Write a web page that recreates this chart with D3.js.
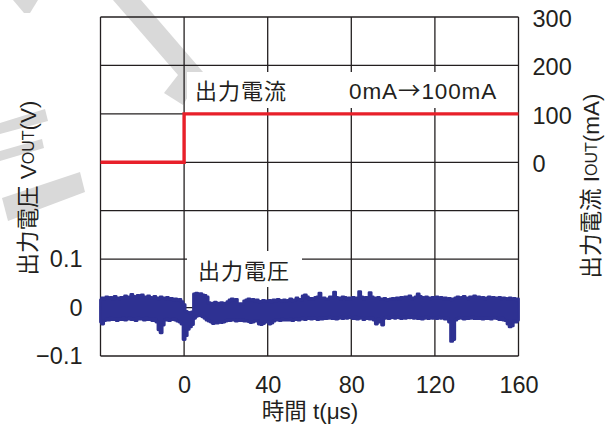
<!DOCTYPE html>
<html>
<head>
<meta charset="utf-8">
<script src="https://cdn.jsdelivr.net/npm/d3@7"></script>
<style>
  html, body { margin: 0; padding: 0; background: #fff; }
  svg { display: block; }
  text { fill: #231f20; font-family: "Liberation Sans", Arial, "Noto Sans CJK JP", sans-serif; }
</style>
</head>
<body>
<svg id="chart" width="616" height="432"></svg>
<script>
// Time axis (µs)
const timeTicks = [0, 40, 80, 120, 160];
const timeGrid = [-40, 0, 40, 80, 120, 160];

// Left axis: output voltage (V)
const voltTicks = [-0.1, 0, 0.1];
const voltGrid = [-0.1, 0, 0.1, 0.2, 0.3, 0.4, 0.5, 0.6];

// Right axis: output current (mA)
const currTicks = [0, 100, 200, 300];

// Load current step 0mA -> 100mA at t = 0
const currentTimes = [-40, 0, 160];
const currentValues = [0, 100, 100];

// Output voltage trace envelope, sampled every 1 µs from -40 µs, in mV
const voltStartTime = -40;
const voltUpper = [
  16,20,18,22,19,21,17,23,20,18,
  21,19,24,20,22,27,23,20,25,21,
  26,22,20,24,21,19,23,20,18,22,
  20,18,21,17,19,16,18,15,17,12,
  6,-8,-10,-12,-9,28,30,27,29,26,
  25,22,10,8,9,11,7,9,10,8,
  9,12,16,18,15,17,6,8,7,14,
  16,18,15,17,14,16,12,13,15,14,
  13,15,12,16,14,17,15,13,16,14,
  15,18,14,16,20,17,15,24,26,22,
  17,19,18,21,22,30,19,20,17,18,
  22,19,32,21,20,18,22,21,17,20,
  18,21,19,20,33,22,18,21,20,31,
  22,20,19,21,18,17,19,16,17,18,
  19,18,20,17,21,19,22,20,24,18,
  20,22,28,23,21,19,22,20,18,21,
  19,22,20,21,18,20,17,19,16,18,
  20,22,19,21,23,20,18,22,21,24,
  20,22,19,21,18,20,22,19,21,20,
  19,21,18,20,19,17,20,18,19,16,18
];
const voltLower = [
  -30,-34,-27,-24,-26,-22,-25,-23,-27,-24,
  -25,-22,-26,-24,-21,-25,-23,-27,-22,-24,
  -23,-26,-22,-25,-24,-27,-24,-30,-46,-52,
  -36,-26,-24,-27,-25,-23,-26,-28,-30,-34,
  -66,-58,-45,-40,-35,-22,-18,-16,-17,-19,
  -22,-26,-28,-30,-33,-31,-32,-29,-31,-30,
  -28,-26,-27,-25,-26,-28,-25,-27,-26,-28,
  -27,-29,-31,-30,-28,-27,-34,-35,-33,-29,
  -30,-34,-32,-28,-26,-25,-27,-24,-26,-25,
  -26,-24,-27,-25,-23,-26,-24,-22,-25,-23,
  -22,-24,-21,-23,-25,-22,-24,-21,-23,-22,
  -20,-23,-21,-24,-22,-20,-23,-21,-22,-20,
  -21,-23,-20,-24,-22,-21,-25,-23,-21,-24,
  -22,-26,-34,-24,-30,-36,-22,-20,-23,-21,
  -20,-22,-19,-21,-23,-20,-22,-19,-21,-20,
  -22,-20,-23,-21,-24,-22,-20,-23,-21,-22,
  -21,-23,-20,-22,-21,-24,-22,-30,-70,-66,
  -26,-23,-21,-22,-24,-21,-23,-22,-20,-23,
  -21,-23,-22,-24,-21,-23,-22,-24,-21,-22,
  -23,-25,-22,-26,-27,-34,-40,-38,-28,-30,-26
];

const ink = "#231f20";
const red = "#e8202a";
const navy = "#2e3192";

const svg = d3.select("#chart");
const plot = { left: 100.5, right: 518.5, top: 17, bottom: 356 };

const x = d3.scaleLinear().domain([-40, 160]).range([plot.left, plot.right]);
const yV = d3.scaleLinear().domain([-0.1, 0.6]).range([plot.bottom, plot.top]);
const yI = d3.scaleLinear().domain([-400, 300]).range([plot.bottom, plot.top]);

svg.append("rect").attr("width", 616).attr("height", 432).attr("fill", "#fff");

// Light grey watermark strokes
const mark = svg.append("g").attr("fill", "#d9d9d9");
[
  [[13,0],[38,0],[30,13],[24,13]],
  [[113,0],[141,0],[203,72],[183,105],[164,93],[178,75]],
  [[0,123],[45,109],[48,121],[0,134]],
  [[0,151],[42,139],[44,148],[0,161]],
  [[2,198],[80,172],[85,192],[8,221]]
].forEach(p => mark.append("path").attr("d", d3.line()(p) + "Z"));

// Grid
const grid = svg.append("g").attr("stroke", ink).attr("stroke-width", 1.3);
grid.selectAll(".gv").data(timeGrid).join("line")
  .attr("x1", d => x(d)).attr("x2", d => x(d))
  .attr("y1", plot.top).attr("y2", plot.bottom);
grid.selectAll(".gh").data(voltGrid).join("line")
  .attr("x1", plot.left).attr("x2", plot.right)
  .attr("y1", d => yV(d)).attr("y2", d => yV(d));

// White backing for in-plot labels
const boxes = [
  [187, 72, 105, 36],
  [344, 72, 162, 36],
  [187, 251, 115, 36]
];
svg.append("g").selectAll("rect").data(boxes).join("rect")
  .attr("x", d => d[0]).attr("y", d => d[1])
  .attr("width", d => d[2]).attr("height", d => d[3])
  .attr("fill", "#fff");

// Current step
const curPts = currentTimes.map((t, i) => [t, currentValues[i]]);
svg.append("path")
  .attr("d", d3.line().x(d => x(d[0])).y(d => yI(d[1])).curve(d3.curveStepAfter)(curPts))
  .attr("fill", "none").attr("stroke", red).attr("stroke-width", 3.4);

// Voltage trace band
const voltPts = voltUpper.map((u, i) => ({ t: voltStartTime + i, hi: u / 1000, lo: voltLower[i] / 1000 }));
svg.append("path")
  .attr("d", d3.area().x(d => x(d.t)).y0(d => yV(d.lo)).y1(d => yV(d.hi)).curve(d3.curveStep)(voltPts))
  .attr("fill", navy).attr("stroke", navy).attr("stroke-width", 2.8).attr("stroke-linejoin", "round");

// Axes labels
const fmtV = d => d === 0 ? "0" : d3.format(".1f")(d);
const bottomAxis = d3.axisBottom(x).tickValues(timeTicks).tickSize(0).tickPadding(20);
const gB = svg.append("g").attr("transform", `translate(0,${plot.bottom})`).call(bottomAxis);
const leftAxis = d3.axisLeft(yV).tickValues(voltTicks).tickFormat(fmtV).tickSize(0).tickPadding(18);
const gL = svg.append("g").attr("transform", `translate(${plot.left},0)`).call(leftAxis);
const rightAxis = d3.axisRight(yI).tickValues(currTicks).tickSize(0).tickPadding(14);
const gR = svg.append("g").attr("transform", `translate(${plot.right},2)`).call(rightAxis);
[gB, gL, gR].forEach(g => {
  g.select(".domain").remove();
  g.selectAll("text").attr("font-size", 23.5)
    .attr("font-family", "'Liberation Sans', Arial, sans-serif").attr("fill", ink);
});

// In-plot annotations
const jp = "'Liberation Sans', 'Noto Sans CJK JP', sans-serif";
svg.append("text").attr("x", 195).attr("y", 99).attr("font-size", 22)
  .attr("letter-spacing", 1).attr("font-family", jp).text("出力電流");
const step = svg.append("text").attr("x", 349).attr("y", 99).attr("font-size", 22.5)
  .attr("letter-spacing", 0.9).attr("font-family", jp);
step.append("tspan").text("0mA");
step.append("tspan").attr("font-family", "'Noto Sans CJK JP', sans-serif").text("→");
step.append("tspan").text("100mA");
svg.append("text").attr("x", 198).attr("y", 279).attr("font-size", 22)
  .attr("letter-spacing", 1).attr("font-family", jp).text("出力電圧");

// Axis titles
svg.append("text").attr("x", 310).attr("y", 419).attr("text-anchor", "middle")
  .attr("font-size", 22.5).attr("font-family", jp).text("時間 t(μs)");

const lt = svg.append("text").attr("transform", "translate(28,188) rotate(-90)")
  .attr("text-anchor", "middle").attr("dominant-baseline", "central")
  .attr("font-size", 22.5).attr("font-family", jp);
lt.append("tspan").text("出力電圧 V");
lt.append("tspan").attr("font-size", 16).text("OUT");
lt.append("tspan").text("(V)");

const rt = svg.append("text").attr("transform", "translate(591,186) rotate(-90)")
  .attr("text-anchor", "middle").attr("dominant-baseline", "central")
  .attr("font-size", 22.5).attr("font-family", jp);
rt.append("tspan").text("出力電流 I");
rt.append("tspan").attr("font-size", 16).text("OUT");
rt.append("tspan").text("(mA)");
</script>
</body>
</html>
